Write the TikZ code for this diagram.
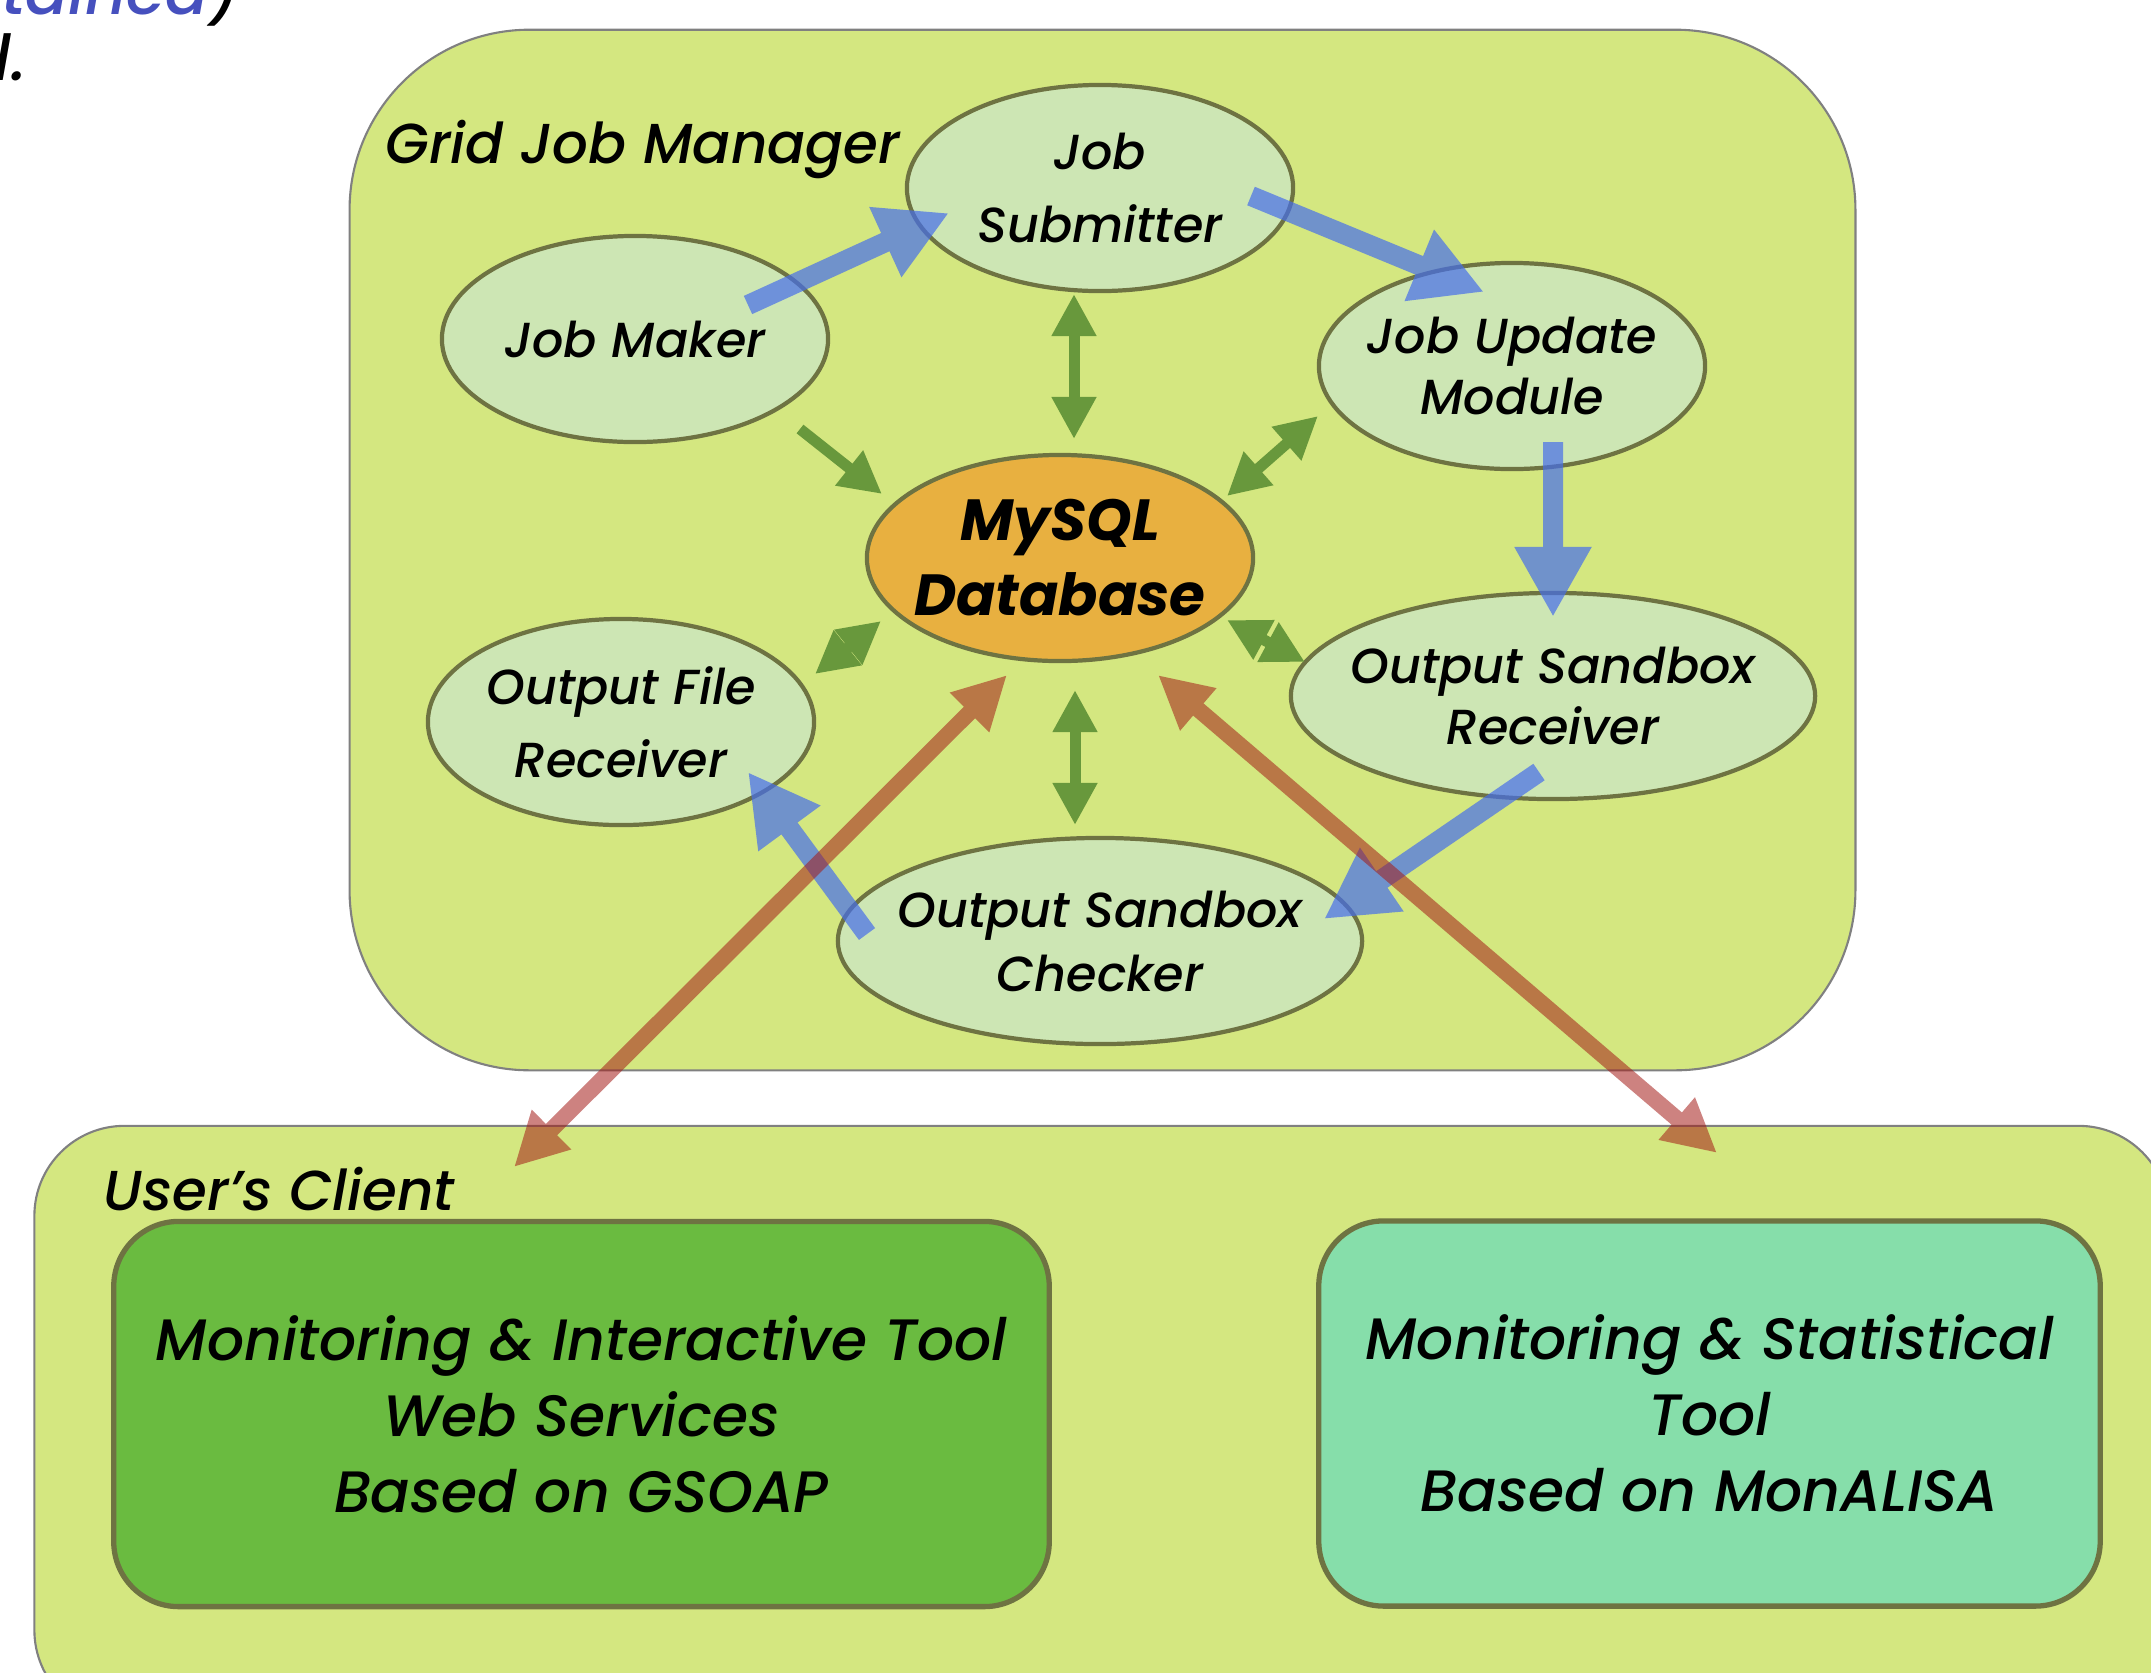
\documentclass[tikz,border=0pt]{standalone}
\usepackage{fontspec}
\setmainfont{Poppins}[UprightFont=* Medium, ItalicFont=* Medium Italic, BoldFont=* Bold, BoldItalicFont=* Bold Italic]
\usetikzlibrary{arrows.meta,shapes.geometric}
\definecolor{boxfill}{RGB}{212,231,128}
\definecolor{boxline}{RGB}{128,128,128}
\definecolor{ellfill}{RGB}{205,230,180}
\definecolor{ellline}{RGB}{110,115,66}
\definecolor{dbfill}{RGB}{232,176,64}
\definecolor{gsoapfill}{RGB}{106,187,64}
\definecolor{monfill}{RGB}{134,222,170}
\definecolor{arrblue}{RGB}{70,110,235}
\definecolor{arrgreen}{RGB}{104,152,60}
\definecolor{arrred}{RGB}{164,28,24}
\definecolor{fragblue}{RGB}{70,80,190}
\begin{document}
\begin{tikzpicture}[x=0.01cm,y=-0.01cm,
  outerbox/.style={draw=boxline, line width=0.6pt, fill=boxfill, inner sep=0pt},
  innerbox/.style={draw=ellline, line width=1.5pt, inner sep=0pt, rounded corners=0.65cm,
    minimum height=3.85cm, font=\fontsize{16.6}{21.6}\selectfont\itshape, align=center},
  ell/.style={ellipse, draw=ellline, line width=1.2pt, fill=ellfill, inner sep=0pt,
    minimum width=3.86cm, minimum height=2.06cm},
  wideell/.style={ell, minimum width=5.24cm},
  etxt/.style={inner sep=0pt, align=center, font=\fontsize{14}{#1}\selectfont\itshape},
  etxt/.default=20.7,
  grouplabel/.style={inner sep=0pt, anchor=base west, font=\fontsize{16}{20}\selectfont\itshape},
  bluearrow/.style={line width=0.2cm, arrblue, -{Triangle[length=0.7cm,width=0.72cm]}},
  greenone/.style={line width=0.11cm, arrgreen, -{Triangle[length=0.42cm,width=0.42cm]}},
  greentwo/.style={line width=0.11cm, arrgreen, {Triangle[length=0.42cm,width=0.42cm]}-{Triangle[length=0.42cm,width=0.42cm]}},
  redtwo/.style={line width=0.16cm, arrred, {Triangle[length=0.53cm,width=0.52cm]}-{Triangle[length=0.53cm,width=0.52cm]}}
]
\useasboundingbox (0,0) rectangle (2151,1672);

% cut-off slide text at the top left
\node[inner sep=0pt, anchor=base west, text=fragblue, font=\fontsize{18}{22}\selectfont\itshape] (fragA) at (-80,14) {ontained};
\node[inner sep=0pt, anchor=base west, font=\fontsize{18}{22}\selectfont\itshape] (fragB) at (fragA.base east) {)};
\node[inner sep=0pt, anchor=base west, font=\fontsize{18}{22}\selectfont\itshape] (fragC) at (-6,80) {l.};

% group boxes
\node[outerbox, rounded corners=1.8cm, minimum width=15.05cm, minimum height=10.4cm] (gjm) at (1102.5,550) {};
\node[outerbox, rounded corners=0.9cm, minimum width=21.33cm, minimum height=5.94cm] (client) at (1101.5,1423) {};

\node[grouplabel] (gjmlabel) at (385,163) {Grid Job Manager};
\node[grouplabel] (clientlabel) at (103,1210) {User’s Client};

% client tools
\node[innerbox, fill=gsoapfill, minimum width=9.35cm] (gsoap) at (581.5,1414)
  {Monitoring \& Interactive Tool\\Web Services\\Based on GSOAP};
\node[innerbox, fill=monfill, minimum width=7.81cm] (monalisa) at (1709.5,1413.5)
  {Monitoring \& Statistical\\Tool\\Based on MonALISA};

% modules
\node[ell] (sub) at (1100,188) {};
\node[ell] (maker) at (635,339) {};
\node[ell] (upd) at (1512,366) {};
\node[ell, fill=dbfill] (db) at (1060,558) {};
\node[ell] (ofr) at (621,722) {};
\node[wideell] (osr) at (1553,696) {};
\node[wideell] (osc) at (1100,941) {};

\node[etxt] (subt) at (sub) {Job\\Submitter};
\node[etxt] (makert) at (maker) {Job Maker};
\node[etxt=17.6] (updt) at (upd) {Job Update\\Module};
\node[inner sep=0pt, align=center, font=\fontsize{16.5}{21.3}\selectfont\bfseries\itshape] (dbt) at (db) {MySQL\\Database};
\node[etxt] (ofrt) at (ofr) {Output File\\Receiver};
\node[etxt=17.6] (osrt) at (osr) {Output Sandbox\\Receiver};
\node[etxt=18.2] (osct) at (osc) {Output Sandbox\\Checker};

% green database connectors
\draw[greenone] ([shift={(165,90)}]maker.center) -- ([shift={(-178,-64)}]db.center);
\draw[greentwo] ([shift={(-26,106)}]sub.center) -- ([shift={(14,-119)}]db.center);
\draw[greentwo] ([shift={(-194,50)}]upd.center) -- ([shift={(167,-62)}]db.center);
\draw[greentwo] ([shift={(-179,63)}]db.center) -- ([shift={(194,-48)}]ofr.center);
\draw[greentwo] ([shift={(167,62)}]db.center) -- ([shift={(-248,-34)}]osr.center);
\draw[greentwo] ([shift={(15,132)}]db.center) -- ([shift={(-25,-116)}]osc.center);

% blue job flow
\begin{scope}[transparency group, opacity=0.7]
\draw[bluearrow] ([shift={(113,-34)}]maker.center) -- ([shift={(-151,25)}]sub.center);
\end{scope}
\begin{scope}[transparency group, opacity=0.7]
\draw[bluearrow] ([shift={(151,8)}]sub.center) -- ([shift={(-28,-74)}]upd.center);
\end{scope}
\begin{scope}[transparency group, opacity=0.7]
\draw[bluearrow] ([shift={(41,76)}]upd.center) -- ([shift={(0,-79)}]osr.center);
\end{scope}
\begin{scope}[transparency group, opacity=0.7]
\draw[bluearrow] ([shift={(-14,76)}]osr.center) -- ([shift={(224,-22)}]osc.center);
\end{scope}
\begin{scope}[transparency group, opacity=0.7]
\draw[bluearrow] ([shift={(-233,-7)}]osc.center) -- ([shift={(127,50)}]ofr.center);
\end{scope}

% red client connectors
\begin{scope}[transparency group, opacity=0.55]
\draw[redtwo] ([shift={(-53,117)}]db.center) -- ([shift={(-587.5,-256)}]client.center);
\end{scope}
\begin{scope}[transparency group, opacity=0.55]
\draw[redtwo] ([shift={(98,117)}]db.center) -- ([shift={(615.5,-270)}]client.center);
\end{scope}
\end{tikzpicture}
\end{document}
